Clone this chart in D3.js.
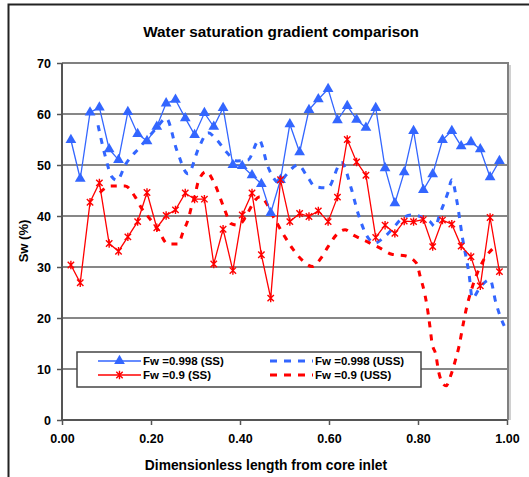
<!DOCTYPE html>
<html>
<head>
<meta charset="utf-8">
<script src="https://cdn.jsdelivr.net/npm/d3@7"></script>
<style>
  html, body { margin: 0; padding: 0; background: #fff; }
  svg { display: block; }
  text { font-family: "Liberation Sans", Arial, sans-serif; font-weight: bold; fill: #000; }
</style>
</head>
<body>
<svg id="chart" width="529" height="477"></svg>
<script>
// Positions along the core (dimensionless) for the steady-state measurements
const positions = [0.020,0.041,0.063,0.084,0.106,0.127,0.148,0.170,0.191,0.213,
  0.234,0.255,0.277,0.298,0.320,0.341,0.362,0.384,0.405,0.427,
  0.448,0.469,0.491,0.512,0.534,0.555,0.576,0.598,0.619,0.641,
  0.662,0.683,0.705,0.726,0.748,0.769,0.790,0.812,0.833,0.855,
  0.876,0.897,0.919,0.940,0.962,0.983];

// Steady state, Fw = 0.998
const swHighSS = [54.9,47.3,60.3,61.3,53.1,51.0,60.4,56.1,54.7,57.5,
  62.1,62.8,59.2,55.9,60.2,57.5,61.2,50.0,49.8,48.0,
  46.3,40.6,47.1,58.0,52.5,60.8,62.9,64.9,58.8,61.6,
  58.9,57.3,61.2,49.4,42.5,48.6,56.7,45.1,48.2,54.9,
  56.7,53.7,54.5,53.1,47.6,50.8];

// Steady state, Fw = 0.9
const swLowSS = [30.4,26.9,42.7,46.5,34.6,33.1,35.9,38.9,44.6,37.7,
  40.1,41.2,44.5,43.3,43.3,30.6,37.4,29.3,40.2,44.5,
  32.4,23.9,47.1,38.9,40.5,39.9,41.0,38.9,43.7,55.0,
  50.6,48.0,35.8,38.2,36.6,39.0,38.9,39.3,34.0,39.2,
  38.4,34.1,32.0,26.3,39.7,29.1];

// Unsteady state profile, Fw = 0.998
const ussHighX = [0.081,0.097,0.112,0.124,0.142,0.175,0.213,0.234,0.258,0.283,
  0.308,0.328,0.348,0.371,0.393,0.418,0.443,0.463,0.488,0.503,
  0.530,0.553,0.568,0.597,0.628,0.650,0.665,0.688,0.703,0.722,
  0.744,0.760,0.785,0.827,0.838,0.850,0.868,0.876,0.887,0.900,
  0.915,0.922,0.940,0.962,0.975,0.993,1.000];
const ussHighY = [57.8,51.8,47.7,47.0,50.0,53.5,57.3,59.2,52.9,48.3,
  53.5,56.3,54.9,52.4,50.8,51.0,54.9,49.6,46.5,48.0,
  50.0,47.5,45.8,45.5,50.5,45.4,40.6,35.7,34.7,35.7,
  37.6,39.2,40.2,38.9,37.9,40.6,44.8,47.1,43.1,35.7,
  28.4,23.9,26.1,27.5,23.0,18.6,17.5];

// Unsteady state profile, Fw = 0.9
const ussLowX = [0.085,0.110,0.142,0.164,0.179,0.198,0.216,0.238,0.261,0.272,
  0.283,0.291,0.299,0.306,0.324,0.342,0.364,0.380,0.395,0.445,
  0.479,0.501,0.519,0.539,0.562,0.584,0.598,0.620,0.636,0.654,
  0.685,0.715,0.741,0.771,0.797,0.805,0.814,0.820,0.827,0.831,
  0.841,0.845,0.852,0.863,0.874,0.883,0.892,0.902,0.908,0.920,
  0.945,0.967];
const ussLowY = [44.6,45.9,45.9,43.8,41.5,39.4,37.3,34.5,34.5,36.9,
  39.2,41.8,44.1,46.7,48.7,46.5,41.6,38.5,38.2,43.8,
  39.2,35.9,33.5,31.4,30.1,32.0,34.0,36.6,37.3,36.3,
  35.0,33.7,32.5,32.2,30.7,28.1,25.2,22.5,18.2,15.4,
  12.4,10.1,7.8,6.7,8.8,11.4,14.4,19.0,21.6,25.5,
  31.0,33.5];

const xTicks = [0, 0.2, 0.4, 0.6, 0.8, 1.0];
const yTicks = [0, 10, 20, 30, 40, 50, 60, 70];
const seriesNames = ["Fw =0.998 (SS)", "Fw =0.9 (SS)", "Fw =0.998 (USS)", "Fw =0.9 (USS)"];

const BLUE = "#3366ff";
const RED = "#ff0000";

const svg = d3.select("#chart");
const plot = { left: 62, right: 507, top: 63, bottom: 420 };

const x = d3.scaleLinear().domain([0, 1]).range([plot.left, plot.right]);
const y = d3.scaleLinear().domain([0, 70]).range([plot.bottom, plot.top]);

// outer chart frame (only top and left edges fall inside the view)
svg.append("path")
  .attr("d", "M8.5,477 V4.5 H529")
  .attr("fill", "none").attr("stroke", "#222").attr("stroke-width", 2);

// plot area border: grey top and right edges
svg.append("path")
  .attr("d", `M${plot.left},${plot.top} H${plot.right + 1} V${plot.bottom}`)
  .attr("fill", "none").attr("stroke", "#808080").attr("stroke-width", 2);
svg.append("line")
  .attr("x1", plot.right + 3).attr("x2", plot.right + 3)
  .attr("y1", plot.top + 2).attr("y2", plot.bottom)
  .attr("stroke", "#d0d0d0").attr("stroke-width", 2);

// horizontal gridlines
svg.append("g").selectAll("line")
  .data(yTicks.filter(v => v > 0 && v < 70))
  .join("line")
  .attr("x1", plot.left).attr("x2", plot.right)
  .attr("y1", d => y(d)).attr("y2", d => y(d))
  .attr("stroke", "#111").attr("stroke-width", 1.2);

// axes
const yAxis = svg.append("g")
  .attr("transform", `translate(${plot.left},0)`)
  .call(d3.axisLeft(y).tickValues(yTicks).tickSize(5).tickPadding(6).tickFormat(d3.format("d")));
const xAxis = svg.append("g")
  .attr("transform", `translate(0,${plot.bottom})`)
  .call(d3.axisBottom(x).tickValues(xTicks).tickSize(5).tickPadding(9).tickFormat(d3.format(".2f")));
[yAxis, xAxis].forEach(g => {
  g.select(".domain").attr("stroke", "#555").attr("stroke-width", 2);
  g.selectAll(".tick line").attr("stroke", "#555").attr("stroke-width", 1.5);
  g.selectAll(".tick text").attr("font-size", 12.5).attr("font-family", "Liberation Sans, Arial, sans-serif").attr("font-weight", "bold").attr("fill", "#000");
});
yAxis.select(".domain").attr("d", `M0,${plot.top}V${plot.bottom}`);
xAxis.select(".domain").attr("d", `M${plot.left},0H${plot.right}`);

// unsteady-state smooth profiles (dashed)
const smooth = d3.line().x(d => x(d[0])).y(d => y(d[1])).curve(d3.curveMonotoneX);
const ussHigh = ussHighX.map((v, i) => [v, ussHighY[i]]);
const ussLow = ussLowX.map((v, i) => [v, ussLowY[i]]);

svg.append("path").datum(ussHigh)
  .attr("d", smooth).attr("fill", "none")
  .attr("stroke", BLUE).attr("stroke-width", 3).attr("stroke-dasharray", "6,7");
svg.append("path").datum(ussLow)
  .attr("d", smooth).attr("fill", "none")
  .attr("stroke", RED).attr("stroke-width", 3).attr("stroke-dasharray", "6,7");

// steady-state measured profiles (solid with markers)
const straight = d3.line().x(d => x(d[0])).y(d => y(d[1]));
const ssHigh = positions.map((v, i) => [v, swHighSS[i]]);
const ssLow = positions.map((v, i) => [v, swLowSS[i]]);

svg.append("path").datum(ssHigh).attr("d", straight)
  .attr("fill", "none").attr("stroke", BLUE).attr("stroke-width", 1.3);
svg.append("path").datum(ssLow).attr("d", straight)
  .attr("fill", "none").attr("stroke", RED).attr("stroke-width", 1.3);

const tri = d3.symbol().type(d3.symbolTriangle).size(50);
function starPath(r) {
  return `M${-r},${-r}L${r},${r}M${-r},${r}L${r},${-r}M0,${-r - 1}L0,${r + 1}`;
}

svg.append("g").selectAll("path")
  .data(ssHigh).join("path")
  .attr("transform", d => `translate(${x(d[0])},${y(d[1])})`)
  .attr("d", tri).attr("fill", BLUE);

svg.append("g").selectAll("path")
  .data(ssLow).join("path")
  .attr("transform", d => `translate(${x(d[0])},${y(d[1])})`)
  .attr("d", starPath(3.2)).attr("fill", "none")
  .attr("stroke", RED).attr("stroke-width", 1.4);

// legend
const lg = svg.append("g");
lg.append("rect")
  .attr("x", 77).attr("y", 352).attr("width", 344).attr("height", 35)
  .attr("fill", "#fff").attr("stroke", "#444").attr("stroke-width", 1.5);

const legendItems = [
  { name: seriesNames[0], color: BLUE, dash: null, marker: "tri", lx: 98, ly: 361 },
  { name: seriesNames[1], color: RED, dash: null, marker: "star", lx: 98, ly: 375 },
  { name: seriesNames[2], color: BLUE, dash: "7,7", marker: null, lx: 270, ly: 361 },
  { name: seriesNames[3], color: RED, dash: "7,7", marker: null, lx: 270, ly: 375 }
];
legendItems.forEach(it => {
  const g = lg.append("g");
  g.append("line")
    .attr("x1", it.lx).attr("x2", it.lx + 43)
    .attr("y1", it.ly).attr("y2", it.ly)
    .attr("stroke", it.color)
    .attr("stroke-width", it.dash ? 3 : 1.3)
    .attr("stroke-dasharray", it.dash);
  if (it.marker === "tri") {
    g.append("path").attr("transform", `translate(${it.lx + 21.5},${it.ly})`)
      .attr("d", tri).attr("fill", it.color);
  } else if (it.marker === "star") {
    g.append("path").attr("transform", `translate(${it.lx + 21.5},${it.ly})`)
      .attr("d", starPath(3.2)).attr("fill", "none")
      .attr("stroke", it.color).attr("stroke-width", 1.4);
  }
  g.append("text")
    .attr("x", it.lx + 45).attr("y", it.ly + 4)
    .attr("font-size", 11.5)
    .text(it.name);
});

// titles
svg.append("text")
  .attr("x", 281).attr("y", 37)
  .attr("text-anchor", "middle").attr("font-size", 15.3)
  .text("Water saturation gradient comparison");

svg.append("text")
  .attr("x", 266).attr("y", 470)
  .attr("text-anchor", "middle").attr("font-size", 13.8)
  .text("Dimensionless length from core inlet");

svg.append("text")
  .attr("transform", "translate(28,241) rotate(-90)")
  .attr("text-anchor", "middle").attr("font-size", 13)
  .text("Sw (%)");
</script>
</body>
</html>
